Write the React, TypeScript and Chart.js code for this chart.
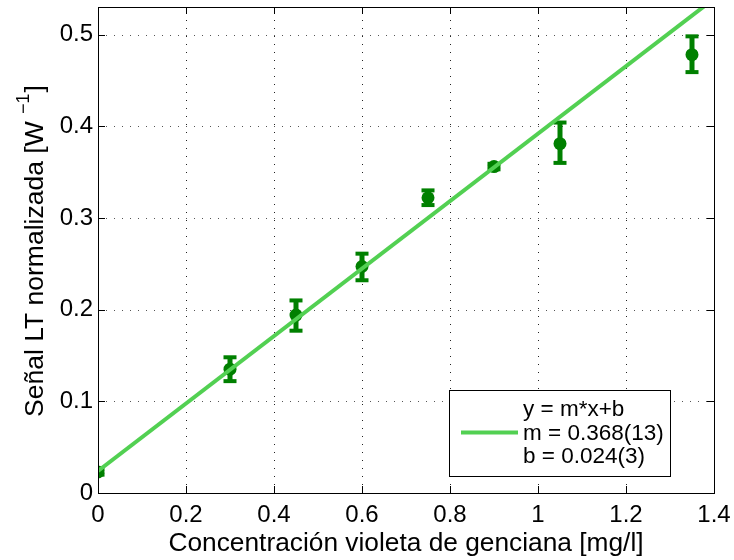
import React, { useEffect, useRef } from 'react';
import { Chart, registerables } from 'chart.js';

Chart.register(...registerables);

// ---- data ----
const concentrations = [0, 0.3, 0.45, 0.6, 0.75, 0.9, 1.05, 1.35];
const signal = [0.023, 0.135, 0.194, 0.247, 0.322, 0.356, 0.381, 0.478];
const errLow = [0.02, 0.122, 0.177, 0.232, 0.314, 0.353, 0.36, 0.459];
const errHigh = [0.026, 0.148, 0.21, 0.261, 0.33, 0.359, 0.404, 0.498];

const fitX = [0, 1.4];
const fitY = [0.024, 0.539];

const xTicks = [0, 0.2, 0.4, 0.6, 0.8, 1, 1.2, 1.4];
const xTickLabels = ['0', '0.2', '0.4', '0.6', '0.8', '1', '1.2', '1.4'];
const yTicks = [0, 0.1, 0.2, 0.3, 0.4, 0.5];
const yTickLabels = ['0', '0.1', '0.2', '0.3', '0.4', '0.5'];

const legendLines = ['y = m*x+b', 'm = 0.368(13)', 'b = 0.024(3)'];
const xTitle = 'Concentración violeta de genciana [mg/l]';
const yTitleMain = 'Señal LT normalizada [W ';
const yTitleSup = '−1';
const yTitleEnd = ']';

const FONT = "'Liberation Sans', Arial, Helvetica, sans-serif";
const DARK = '#008000';
const LIGHT = 'rgb(82, 208, 82)';

const matlabPlugin = {
  id: 'matlabStyle',
  beforeDatasetsDraw(chart: any) {
    const { ctx, chartArea: a, scales } = chart;
    const x = scales.x;
    const y = scales.y;
    ctx.save();
    // dotted grid
    ctx.strokeStyle = '#222';
    ctx.lineWidth = 1;
    ctx.setLineDash([1, 7]);
    for (const v of xTicks) {
      const px = Math.round(x.getPixelForValue(v)) + 0.5;
      if (px <= a.left + 1 || px >= a.right - 1) continue;
      ctx.beginPath();
      ctx.moveTo(px, a.bottom);
      ctx.lineTo(px, a.top);
      ctx.stroke();
    }
    ctx.strokeStyle = '#555';
    for (const v of yTicks) {
      const py = Math.round(y.getPixelForValue(v)) + 0.5;
      if (py >= a.bottom - 1 || py <= a.top + 1) continue;
      ctx.beginPath();
      ctx.moveTo(a.left, py);
      ctx.lineTo(a.right, py);
      ctx.stroke();
    }
    ctx.setLineDash([]);
    // error bars
    ctx.beginPath();
    ctx.rect(a.left, a.top, a.right - a.left, a.bottom - a.top);
    ctx.clip();
    ctx.fillStyle = DARK;
    for (let i = 0; i < concentrations.length; i++) {
      const px = x.getPixelForValue(concentrations[i]);
      const yl = y.getPixelForValue(errLow[i]);
      const yh = y.getPixelForValue(errHigh[i]);
      ctx.fillRect(px - 2.5, yh, 5, yl - yh);
      ctx.fillRect(px - 6.5, yh - 2, 13, 4);
      ctx.fillRect(px - 6.5, yl - 2, 13, 4);
    }
    ctx.restore();
  },
  afterDatasetsDraw(chart: any) {
    const { ctx, chartArea: a, scales } = chart;
    const x = scales.x;
    const y = scales.y;
    ctx.save();
    ctx.strokeStyle = '#000';
    ctx.lineWidth = 1;
    // tick marks (inside)
    const tl = 7;
    for (const v of xTicks) {
      const px = Math.round(x.getPixelForValue(v)) + 0.5;
      ctx.beginPath();
      ctx.moveTo(px, a.bottom);
      ctx.lineTo(px, a.bottom - tl);
      ctx.moveTo(px, a.top);
      ctx.lineTo(px, a.top + tl);
      ctx.stroke();
    }
    for (const v of yTicks) {
      const py = Math.round(y.getPixelForValue(v)) + 0.5;
      ctx.beginPath();
      ctx.moveTo(a.left, py);
      ctx.lineTo(a.left + tl, py);
      ctx.moveTo(a.right, py);
      ctx.lineTo(a.right - tl, py);
      ctx.stroke();
    }
    // box
    ctx.strokeRect(Math.round(a.left) + 0.5, Math.round(a.top) + 0.5, Math.round(a.right - a.left), Math.round(a.bottom - a.top));
    ctx.restore();
  },
  afterDraw(chart: any) {
    const { ctx, chartArea: a } = chart;
    ctx.save();
    // legend
    ctx.fillStyle = '#fff';
    ctx.fillRect(449.5, 390.5, 221, 86);
    ctx.strokeStyle = '#000';
    ctx.lineWidth = 1;
    ctx.strokeRect(449.5, 390.5, 221, 86);
    ctx.strokeStyle = LIGHT;
    ctx.lineWidth = 4;
    ctx.beginPath();
    ctx.moveTo(461, 432.5);
    ctx.lineTo(518, 432.5);
    ctx.stroke();
    ctx.fillStyle = '#000';
    ctx.font = `22.5px ${FONT}`;
    ctx.textAlign = 'left';
    ctx.textBaseline = 'alphabetic';
    const baselines = [416, 440, 463];
    legendLines.forEach((t, i) => ctx.fillText(t, 523, baselines[i]));
    // x title
    ctx.font = `26.3px ${FONT}`;
    ctx.textAlign = 'center';
    ctx.fillText(xTitle, (a.left + a.right) / 2, 551);
    // y title with superscript
    ctx.translate(42.5, (a.top + a.bottom) / 2 + 1);
    ctx.rotate(-Math.PI / 2);
    ctx.textAlign = 'left';
    const mainFont = `26.5px ${FONT}`;
    const supFont = `18px ${FONT}`;
    ctx.font = mainFont;
    const w1 = ctx.measureText(yTitleMain).width;
    const w3 = ctx.measureText(yTitleEnd).width;
    ctx.font = supFont;
    const w2 = ctx.measureText(yTitleSup).width;
    const start = -(w1 + w2 + w3 + 1) / 2;
    ctx.font = mainFont;
    ctx.fillText(yTitleMain, start, 0);
    ctx.font = supFont;
    ctx.fillText(yTitleSup, start + w1, -14);
    ctx.font = mainFont;
    ctx.fillText(yTitleEnd, start + w1 + w2 + 1, 0);
    ctx.restore();
  },
};

export default function App() {
  const ref = useRef<HTMLCanvasElement | null>(null);
  useEffect(() => {
    if (!ref.current) return;
    const chart = new Chart(ref.current, {
      type: 'scatter',
      data: {
        datasets: [
          {
            label: 'fit',
            data: fitX.map((v, i) => ({ x: v, y: fitY[i] })),
            showLine: true,
            borderColor: LIGHT,
            borderWidth: 4,
            pointRadius: 0,
            fill: false,
            clip: 0,
          } as any,
          {
            label: 'data',
            data: concentrations.map((v, i) => ({ x: v, y: signal[i] })),
            showLine: false,
            pointRadius: 6.5,
            pointBackgroundColor: DARK,
            pointBorderWidth: 0,
            pointBorderColor: DARK,
            clip: 0,
          } as any,
        ],
      },
      options: {
        responsive: false,
        animation: false,
        events: [],
        layout: { padding: { left: 0, top: 7, right: 20, bottom: 0 } },
        plugins: { legend: { display: false }, tooltip: { enabled: false } },
        scales: {
          x: {
            type: 'linear',
            min: 0,
            max: 1.4,
            grid: { display: false, drawTicks: false },
            border: { display: false },
            afterBuildTicks: (s: any) => {
              s.ticks = xTicks.map((v) => ({ value: v }));
            },
            afterFit: (s: any) => {
              s.height = 67;
              s.paddingLeft = 0;
              s.paddingRight = 0;
            },
            ticks: {
              autoSkip: false,
              maxRotation: 0,
              padding: 8,
              color: '#000',
              font: { family: FONT, size: 24 },
              callback: (v: any) => {
                const i = xTicks.findIndex((t) => Math.abs(t - v) < 1e-9);
                return i >= 0 ? xTickLabels[i] : '';
              },
            },
          },
          y: {
            type: 'linear',
            min: 0,
            max: 0.53,
            grid: { display: false, drawTicks: false },
            border: { display: false },
            afterBuildTicks: (s: any) => {
              s.ticks = yTicks.map((v) => ({ value: v }));
            },
            afterFit: (s: any) => {
              s.width = 98;
              s.paddingTop = 0;
              s.paddingBottom = 0;
            },
            ticks: {
              autoSkip: false,
              padding: 5,
              color: '#000',
              font: { family: FONT, size: 24 },
              callback: (v: any) => {
                const i = yTicks.findIndex((t) => Math.abs(t - v) < 1e-9);
                return i >= 0 ? yTickLabels[i] : '';
              },
            },
          },
        },
      },
      plugins: [matlabPlugin],
    });
    return () => chart.destroy();
  }, []);
  return (
    <div style={{ position: 'absolute', left: 0, top: 0, width: 734, height: 560, background: '#fff' }}>
      <canvas ref={ref} width={734} height={560} style={{ display: 'block' }} />
    </div>
  );
}
